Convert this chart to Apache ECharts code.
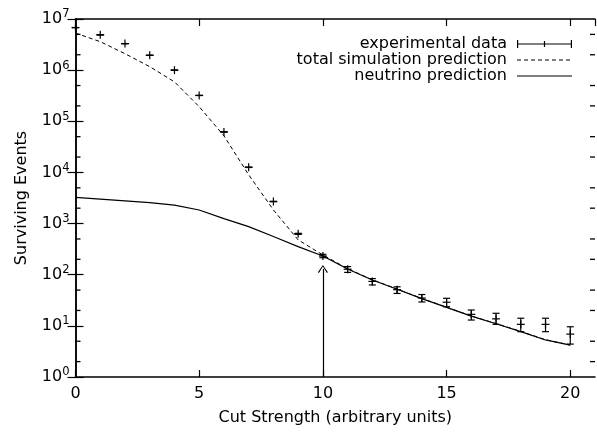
<!DOCTYPE html>
<html>
<head>
<meta charset="utf-8">
<script src="https://cdn.jsdelivr.net/npm/echarts@6/dist/echarts.min.js"></script>
<style>html,body{margin:0;padding:0;background:#fff}#c{width:597px;height:435px}</style>
</head>
<body>
<div id="c"></div>
<script>
const cutStrength = [0,1,2,3,4,5,6,7,8,9,10,11,12,13,14,15,16,17,18,19,20];
const expValues = [6.8e6,4.9e6,3.3e6,1.95e6,1.0e6,3.2e5,6.2e4,1.26e4,2.7e3,630,232,128,74,51,35,29,16.8,13.7,10.7,10.7,6.9];
const expLow    = [6.78e6,4.89e6,3.29e6,1.945e6,0.998e6,3.19e5,6.17e4,1.25e4,2.68e3,615,215,111,63,43,29.3,23.7,13.0,10.7,7.7,7.7,4.4];
const expHigh   = [6.82e6,4.91e6,3.31e6,1.955e6,1.002e6,3.21e5,6.23e4,1.27e4,2.72e3,645,250,144,84,58,41,34.6,20.4,17.6,14.1,14.1,9.6];
const totalSim  = [5.3e6,3.6e6,2.1e6,1.17e6,5.9e5,1.93e5,5.2e4,9.0e3,1.85e3,480,243,131,79.5,52.5,34.3,23.2,15.6,11.1,7.8,5.35,4.22];
const neutrino  = [3240,3000,2780,2560,2300,1840,1250,870,560,355,232,129,79,52,34,23,15.5,11,7.7,5.3,4.2];
const arrowX = 10, arrowBottom = 1, arrowTop = 130;
const X_MIN = 0, X_MAX = 21;
const yTickExponents = [0,1,2,3,4,5,6,7];
const yMinorTicks = [2,5,20,50,200,500,2e3,5e3,2e4,5e4,2e5,5e5,2e6,5e6];

const FONT = 'DejaVu Sans';
const chart = echarts.init(document.getElementById('c'));

const expData = cutStrength.map((x, i) => [x, expValues[i], expLow[i], expHigh[i]]);
const totData = cutStrength.map((x, i) => [x, totalSim[i]]);
const nuData = cutStrength.map((x, i) => [x, neutrino[i]]);
const minorData = yMinorTicks.map(v => [X_MIN, v]);

// legend sample glyphs (55 x 8 boxes; tiny corner anchors keep the box size)
const anchors = 'M0,0L0.01,0L0,0.01ZM55,8L54.99,8L55,7.99Z';
const errIcon = 'path://M0,0L1.2,0L1.2,8L0,8ZM53.8,0L55,0L55,8L53.8,8ZM0,3.4L55,3.4L55,4.6L0,4.6ZM26.9,1L28.1,1L28.1,7L26.9,7Z';
let dashPath = '';
for (let x = 0; x < 55; x += 7) dashPath += 'M' + x + ',3.5L' + Math.min(x + 4, 55) + ',3.5L' + Math.min(x + 4, 55) + ',4.5L' + x + ',4.5Z';
const dashIcon = 'path://' + anchors + dashPath;
const solidIcon = 'path://' + anchors + 'M0,3.4L55,3.4L55,4.6L0,4.6Z';
const arrowHead = 'path://M5,0L10,8L9,8.7L5,1.8L1,8.7L0,8Z';

const axisLineStyle = {color: '#000', width: 1.5};

chart.setOption({
  animation: false,
  backgroundColor: '#fff',
  grid: {left: 75.5, right: 2, top: 19, bottom: 58, containLabel: false, outerBoundsMode: 'none'},
  legend: {
    orient: 'vertical', right: 20, top: 31, align: 'right',
    itemWidth: 55, itemHeight: 8, itemGap: 0,
    textStyle: {fontFamily: FONT, fontSize: 16, lineHeight: 15, color: '#000', padding: [0, 5, 0, 0]},
    data: [
      {name: 'experimental data', icon: errIcon},
      {name: 'total simulation prediction', icon: dashIcon},
      {name: 'neutrino prediction', icon: solidIcon}
    ]
  },
  xAxis: [{
    type: 'value', min: X_MIN, max: X_MAX, interval: 5, position: 'bottom',
    name: 'Cut Strength (arbitrary units)', nameLocation: 'middle', nameGap: 33,
    nameTextStyle: {fontFamily: FONT, fontSize: 16, color: '#000'},
    axisLine: {show: true, lineStyle: axisLineStyle},
    axisTick: {show: true, inside: true, length: 7, lineStyle: {color: '#000', width: 1.2}},
    axisLabel: {fontFamily: FONT, fontSize: 16, color: '#000', margin: 9, showMaxLabel: false},
    splitLine: {show: false}
  }, {
    type: 'value', min: X_MIN, max: X_MAX, interval: 5, position: 'top',
    axisLine: {show: true, lineStyle: axisLineStyle},
    axisTick: {show: true, inside: true, length: 7, lineStyle: {color: '#000', width: 1.2}},
    axisLabel: {show: false}, splitLine: {show: false}
  }],
  yAxis: [{
    type: 'log', logBase: 10, min: 1, max: 1e7, position: 'left',
    name: 'Surviving Events', nameLocation: 'middle', nameGap: 46, nameRotate: 90,
    nameTextStyle: {fontFamily: FONT, fontSize: 16, color: '#000'},
    axisLine: {show: true, lineStyle: axisLineStyle},
    axisTick: {show: true, inside: true, length: 8, lineStyle: {color: '#000', width: 1.2}},
    minorTick: {show: false},
    axisLabel: {
      margin: 6, color: '#000',
      formatter: v => {
        const e = Math.round(Math.log10(v));
        return yTickExponents.indexOf(e) >= 0 ? '{b|10}{s|' + e + '}' : '';
      },
      rich: {
        b: {fontFamily: FONT, fontSize: 16, color: '#000'},
        s: {fontFamily: FONT, fontSize: 11.5, color: '#000', padding: [0, 0, 9, 0]}
      }
    },
    splitLine: {show: false}, minorSplitLine: {show: false}
  }, {
    type: 'log', logBase: 10, min: 1, max: 1e7, position: 'right',
    axisLine: {show: true, lineStyle: axisLineStyle},
    axisTick: {show: true, inside: true, length: 8, lineStyle: {color: '#000', width: 1.2}},
    minorTick: {show: false},
    axisLabel: {show: false}, splitLine: {show: false}
  }],
  series: [{
    name: 'minor ticks', type: 'custom', xAxisIndex: 0, yAxisIndex: 0,
    silent: true, data: minorData, z: 6, clip: false,
    renderItem: (params, api) => {
      const l = api.coord([X_MIN, api.value(1)]);
      const r = api.coord([X_MAX, api.value(1)]);
      const st = {stroke: '#000', lineWidth: 1.3, fill: null};
      return {type: 'group', children: [
        {type: 'line', shape: {x1: l[0], y1: l[1], x2: l[0] + 5, y2: l[1]}, style: st},
        {type: 'line', shape: {x1: r[0] - 5, y1: r[1], x2: r[0], y2: r[1]}, style: st}
      ]};
    }
  }, {
    name: 'experimental data', type: 'custom', xAxisIndex: 0, yAxisIndex: 0,
    itemStyle: {color: '#000'},
    data: expData,
    z: 5,
    renderItem: (params, api) => {
      const x = api.value(0);
      const c = api.coord([x, api.value(1)]);
      const lo = api.coord([x, api.value(2)]);
      const hi = api.coord([x, api.value(3)]);
      const cw = 3.5, pw = 4;
      const st = {stroke: '#000', lineWidth: 1.2, fill: null};
      return {type: 'group', children: [
        {type: 'line', shape: {x1: lo[0], y1: lo[1], x2: hi[0], y2: hi[1]}, style: st},
        {type: 'line', shape: {x1: lo[0] - cw, y1: lo[1], x2: lo[0] + cw, y2: lo[1]}, style: st},
        {type: 'line', shape: {x1: hi[0] - cw, y1: hi[1], x2: hi[0] + cw, y2: hi[1]}, style: st},
        {type: 'line', shape: {x1: c[0] - pw, y1: c[1], x2: c[0] + pw, y2: c[1]}, style: st},
        {type: 'line', shape: {x1: c[0], y1: c[1] - pw, x2: c[0], y2: c[1] + pw}, style: st}
      ]};
    }
  }, {
    name: 'total simulation prediction', type: 'line', xAxisIndex: 0, yAxisIndex: 0,
    data: totData, symbol: 'none', showSymbol: false,
    lineStyle: {color: '#000', width: 1, type: [4, 3]},
    itemStyle: {color: '#000'}, z: 3
  }, {
    name: 'neutrino prediction', type: 'line', xAxisIndex: 0, yAxisIndex: 0,
    data: nuData, symbol: 'none', showSymbol: false,
    lineStyle: {color: '#000', width: 1.2, type: 'solid'},
    itemStyle: {color: '#000'}, z: 4,
    markLine: {
      silent: true, animation: false,
      symbol: ['none', arrowHead], symbolSize: [10, 8],
      label: {show: false},
      lineStyle: {color: '#000', width: 1.2, type: 'solid'},
      emphasis: {disabled: true},
      data: [[{coord: [arrowX, arrowBottom]}, {coord: [arrowX, arrowTop]}]]
    }
  }]
});
</script>
</body>
</html>
